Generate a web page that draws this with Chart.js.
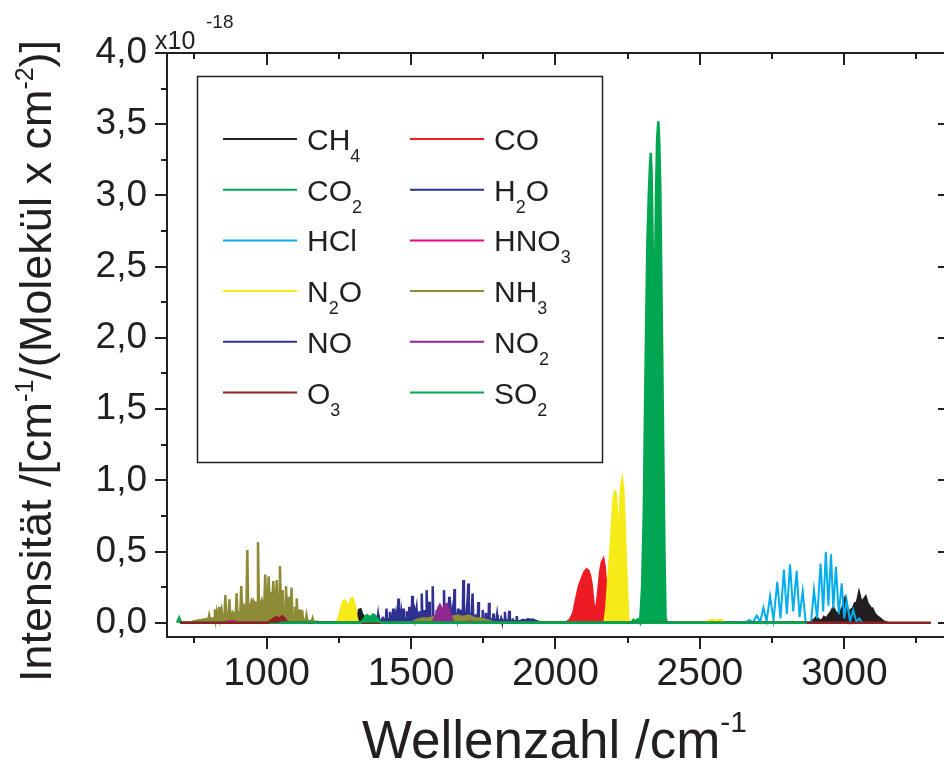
<!DOCTYPE html>
<html>
<head>
<meta charset="utf-8">
<script src="https://cdn.jsdelivr.net/npm/chart.js@4.4.1/dist/chart.umd.min.js"></script>
<style>
  html, body { margin: 0; padding: 0; background: #fff; overflow: hidden; }
  #wrap { position: absolute; left: 0; top: 0; width: 950px; height: 762px; }
</style>
</head>
<body>
<div id="wrap"><canvas id="myChart"></canvas></div>
<script>
// wavenumber (cm^-1), intensity (x10^-18 cm^-1/(molecule cm^-2))
const CH4 = [[1310,0],[1316,0.04],[1320,0.09],[1325,0.094],[1330,0.06],[1335,0.05],[1340,0.02],[1345,0],
  [2880,0],[2887,0.01],[2895,0.02],[2904,0.04],[2912,0.02],[2922,0.015],[2930,0.04],[2938,0.03],[2948,0.06],
  [2955,0.08],[2962,0.107],[2968,0.08],[2975,0.065],[2985,0.077],[2993,0.1],[3002,0.164],[3008,0.09],
  [3015,0.06],[3022,0.09],[3030,0.1],[3037,0.136],[3044,0.14],[3051,0.21],[3057,0.16],[3064,0.15],
  [3070,0.17],[3074,0.182],[3080,0.14],[3086,0.12],[3092,0.1],[3097,0.1],[3104,0.07],[3110,0.05],
  [3117,0.04],[3124,0.03],[3132,0.015],[3141,0.005],[3150,0]];
const CO = [[2035,0],[2050,0.02],[2062,0.07],[2073,0.18],[2082,0.26],[2091,0.31],[2100,0.355],[2108,0.375],
  [2114,0.365],[2120,0.33],[2125,0.27],[2131,0.15],[2137,0.07],[2141,0.09],[2149,0.24],[2155,0.36],
  [2160,0.42],[2166,0.445],[2170,0.4],[2174,0.29],[2179,0.16],[2183,0.08],[2188,0.01],[2192,0]];
const CO2 = [[690,0],[697,0.035],[702,0.01],[708,0],[2262,0],[2270,0.02],[2278,0.01],[2285,0.025],[2293,0],
  [2300,0.25],[2306,0.8],[2310,1.5],[2314,2.1],[2318,2.65],[2323,3.0],[2327,3.2],[2330,3.3],[2333,3.15],
  [2337,2.6],[2341,1.95],[2344,2.3],[2348,3.0],[2352,3.4],[2356,3.52],[2359,3.4],[2363,3.05],[2366,2.5],
  [2369,1.98],[2373,1.25],[2377,0.55],[2381,0.04],[2385,0],[2400,0]];
const H2O = [[1330,0],[1360,0.005],[1375,0.015],[1384,0.02],[1386,0.054],[1388,0.02],[1400,0.02],[1402,0.042],
  [1404,0.02],[1413,0.025],[1415,0.1],[1417,0.025],[1425,0.025],[1427,0.077],[1429,0.025],[1436,0.03],
  [1438,0.1],[1440,0.03],[1446,0.03],[1448,0.06],[1450,0.03],[1454,0.03],[1456,0.17],[1458,0.03],
  [1464,0.03],[1466,0.07],[1468,0.03],[1471,0.03],[1473,0.1],[1475,0.03],[1483,0.03],[1485,0.08],
  [1487,0.03],[1492,0.03],[1494,0.112],[1496,0.03],[1502,0.035],[1504,0.19],[1506,0.035],[1510,0.035],
  [1512,0.07],[1514,0.035],[1517,0.035],[1519,0.1],[1521,0.035],[1527,0.035],[1529,0.08],[1531,0.035],
  [1535,0.035],[1537,0.206],[1539,0.04],[1545,0.04],[1547,0.09],[1549,0.04],[1552,0.04],[1554,0.229],
  [1556,0.04],[1561,0.04],[1563,0.147],[1565,0.04],[1573,0.04],[1575,0.257],[1577,0.04],[1587,0.04],
  [1589,0.089],[1591,0.04],[1600,0.04],[1602,0.09],[1604,0.04],[1612,0.04],[1614,0.229],[1616,0.04],
  [1622,0.04],[1624,0.1],[1626,0.04],[1630,0.04],[1632,0.182],[1634,0.04],[1640,0.04],[1642,0.08],
  [1644,0.04],[1648,0.04],[1650,0.236],[1652,0.04],[1656,0.04],[1658,0.07],[1660,0.04],[1661,0.04],
  [1663,0.1],[1665,0.04],[1672,0.04],[1674,0.09],[1676,0.04],[1679,0.04],[1681,0.3],[1683,0.04],
  [1690,0.04],[1692,0.08],[1694,0.04],[1696,0.04],[1698,0.276],[1700,0.04],[1705,0.035],[1707,0.07],
  [1709,0.035],[1711,0.035],[1713,0.206],[1715,0.035],[1722,0.03],[1724,0.06],[1726,0.03],[1731,0.03],
  [1733,0.145],[1735,0.03],[1746,0.03],[1748,0.089],[1750,0.03],[1757,0.025],[1759,0.07],[1761,0.025],
  [1768,0.025],[1770,0.14],[1772,0.025],[1783,0.02],[1785,0.065],[1787,0.02],[1796,0.02],[1798,0.054],
  [1800,0.02],[1810,0.015],[1812,0.03],[1814,0.015],[1823,0.015],[1825,0.077],[1827,0.015],[1838,0.015],
  [1840,0.084],[1842,0.015],[1850,0.01],[1852,0.03],[1854,0.01],[1864,0.01],[1866,0.047],[1868,0.01],
  [1880,0.005],[1895,0]];
const HCl = [[2650,0],[2660,0.005],[2671,0.02],[2684,0.003],[2697,0.05],[2709,0.005],[2720,0.107],[2731,0.01],
  [2743,0.187],[2755,0.02],[2768,0.288],[2779,0.03],[2791,0.374],[2801,0.06],[2812,0.411],[2823,0.08],
  [2835,0.365],[2845,0.04],[2856,0.222],[2866,0.005],[2876,0],[2885,0.005],[2895,0.229],[2906,0.03],
  [2918,0.416],[2927,0.08],[2936,0.498],[2945,0.12],[2954,0.48],[2962,0.1],[2971,0.393],[2981,0.06],
  [2991,0.276],[3000,0.03],[3008,0.159],[3020,0.01],[3031,0.089],[3042,0.005],[3052,0.03],[3062,0],[3075,0]];
const HNO3 = [[850,0],[870,0.008],[885,0.01],[900,0],[1315,0],[1322,0.02],[1328,0.015],[1335,0],
  [1690,0],[1705,0.01],[1720,0]];
const N2O = [[1240,0],[1250,0.03],[1258,0.1],[1265,0.15],[1271,0.155],[1277,0.13],[1283,0.11],[1289,0.15],
  [1294,0.17],[1299,0.17],[1305,0.12],[1311,0.04],[1317,0],[2170,0],[2176,0.1],[2182,0.28],[2188,0.45],
  [2194,0.62],[2199,0.8],[2203,0.9],[2206,0.93],[2210,0.88],[2214,0.72],[2218,0.58],[2221,0.62],
  [2224,0.82],[2228,0.97],[2231,1.0],[2235,0.92],[2239,0.72],[2244,0.43],[2248,0.2],[2252,0.03],
  [2256,0],[2520,0],[2530,0.015],[2545,0.02],[2555,0.01],[2565,0.02],[2575,0.02],[2585,0]];
const NH3 = [[700,0],[740,0.005],[757,0.015],[775,0.02],[790,0.025],[798,0.025],[801,0.054],[804,0.025],
  [810,0.03],[818,0.03],[821,0.094],[824,0.03],[827,0.073],[830,0.035],[833,0.035],[836,0.112],[839,0.035],
  [841,0.035],[844,0.089],[847,0.04],[854,0.04],[857,0.194],[860,0.05],[868,0.05],[871,0.164],[874,0.05],
  [879,0.06],[882,0.073],[885,0.06],[893,0.07],[896,0.206],[899,0.07],[909,0.07],[912,0.257],[915,0.09],
  [918,0.09],[921,0.12],[924,0.1],[930,0.1],[933,0.51],[936,0.12],[944,0.12],[947,0.147],[950,0.12],
  [951,0.12],[954,0.154],[957,0.14],[967,0.14],[970,0.566],[973,0.14],[980,0.14],[983,0.16],[986,0.14],
  [992,0.14],[995,0.339],[998,0.15],[1004,0.15],[1007,0.327],[1010,0.15],[1012,0.15],[1015,0.218],
  [1018,0.15],[1020,0.15],[1023,0.292],[1026,0.15],[1032,0.15],[1035,0.3],[1038,0.15],[1043,0.15],
  [1046,0.398],[1049,0.14],[1052,0.14],[1055,0.229],[1058,0.12],[1064,0.11],[1067,0.257],[1070,0.1],
  [1073,0.09],[1076,0.182],[1079,0.07],[1083,0.06],[1086,0.248],[1089,0.05],[1095,0.05],[1098,0.112],
  [1101,0.045],[1102,0.045],[1104,0.171],[1107,0.035],[1112,0.03],[1115,0.094],[1118,0.03],[1120,0.03],
  [1123,0.089],[1126,0.02],[1135,0.02],[1138,0.054],[1141,0.015],[1156,0.01],[1159,0.03],[1162,0.005],
  [1173,0.007],[1185,0],[1500,0],[1520,0.02],[1540,0.03],[1560,0.03],[1580,0.04],[1600,0.04],
  [1620,0.05],[1640,0.04],[1660,0.05],[1680,0.04],[1700,0.05],[1720,0.03],[1740,0.03],[1760,0.02],[1790,0]];
const NO = [[1860,0],[1875,0.01],[1888,0.02],[1895,0.015],[1905,0.025],[1912,0.02],[1920,0.022],
  [1930,0.015],[1940,0.008],[1950,0]];
const NO2 = [[1571,0],[1580,0.02],[1588,0.06],[1594,0.1],[1600,0.124],[1606,0.1],[1611,0.09],[1616,0.11],
  [1621,0.128],[1625,0.131],[1631,0.09],[1638,0.04],[1645,0.01],[1652,0]];
const O3 = [[700,0],[1005,0],[1015,0.015],[1025,0.03],[1033,0.04],[1040,0.03],[1047,0.035],[1055,0.045],
  [1062,0.03],[1070,0.005],[1075,0],[3300,0]];
const SO2 = [[1045,0],[1140,0],[1150,0.005],[1160,0],[1325,0],[1335,0.02],[1342,0.045],[1348,0.054],
  [1355,0.04],[1362,0.045],[1369,0.058],[1376,0.05],[1384,0.025],[1393,0.005],[1400,0],[2870,0]];

const species = ['CH4', 'CO', 'CO2', 'H2O', 'HCl', 'HNO3', 'N2O', 'NH3', 'NO', 'NO2', 'O3', 'SO2'];
const spectra = [CH4, CO, CO2, H2O, HCl, HNO3, N2O, NH3, NO, NO2, O3, SO2];
const xTicks = [750, 1000, 1250, 1500, 1750, 2000, 2250, 2500, 2750, 3000, 3250];
const yTicks = [0, 0.25, 0.5, 0.75, 1, 1.25, 1.5, 1.75, 2, 2.25, 2.5, 2.75, 3, 3.25, 3.5, 3.75, 4];

const colors = ['#231f20', '#ed1c24', '#00a651', '#2e3192', '#00aeef', '#ec008c',
                '#f6eb16', '#8d8b36', '#2e3192', '#92278f', '#8c2222', '#00a651'];
// lower = drawn on top
const drawOrder = [6, 5, 3, 10, 5, 6, 4, 8, 9, 7, 2, 1];

const FONT = '"Liberation Sans", Arial, sans-serif';
const INK = '#231f20';

function isMajor(v, step) {
  return Math.abs(v / step - Math.round(v / step)) < 1e-6;
}

// draws text runs along the current baseline (dy shifts super/subscripts)
function drawRuns(ctx, runs, x, y) {
  let cx = x;
  runs.forEach(r => {
    ctx.font = r.size + 'px ' + FONT;
    ctx.fillText(r.t, cx, y + (r.dy || 0));
    cx += ctx.measureText(r.t).width;
  });
  return cx;
}

function formulaRuns(name) {
  return name.match(/\d+|\D+/g).map(p => /\d/.test(p) ? {t: p, size: 18, dy: 12} : {t: p, size: 30});
}

const decorPlugin = {
  id: 'decor',
  afterDraw(chart) {
    const ctx = chart.ctx;
    const a = chart.chartArea;
    const xs = chart.scales.x, ys = chart.scales.y;
    ctx.save();
    ctx.strokeStyle = INK;
    ctx.fillStyle = INK;
    ctx.lineWidth = 2;

    // frame
    ctx.strokeRect(a.left, a.top, a.right - a.left, a.bottom - a.top);

    // ticks: outward on bottom/left, inward on top/right
    ctx.beginPath();
    xTicks.forEach(v => {
      const px = Math.round(xs.getPixelForValue(v));
      const len = isMajor(v, 500) ? 12 : 6;
      ctx.moveTo(px, a.bottom); ctx.lineTo(px, a.bottom + len);
      ctx.moveTo(px, a.top); ctx.lineTo(px, a.top + len);
    });
    yTicks.forEach(v => {
      const py = Math.round(ys.getPixelForValue(v));
      const len = isMajor(v, 0.5) ? 12 : 6;
      ctx.moveTo(a.left - len, py); ctx.lineTo(a.left, py);
      ctx.moveTo(a.right - len, py); ctx.lineTo(a.right, py);
    });
    ctx.stroke();

    // x10^-18 factor
    ctx.textAlign = 'left';
    ctx.textBaseline = 'alphabetic';
    drawRuns(ctx, [{t: 'x10', size: 25}], 155, 49);
    drawRuns(ctx, [{t: '-18', size: 19}], 206, 28);

    // x title
    drawRuns(ctx, [{t: 'Wellenzahl /cm', size: 53}, {t: '-1', size: 30, dy: -26}], 362, 758);

    // y title
    ctx.save();
    ctx.translate(51, 682);
    ctx.rotate(-Math.PI / 2);
    drawRuns(ctx, [
      {t: 'Intensität /[cm', size: 45}, {t: '-1', size: 25, dy: -18},
      {t: '/(Molekül x cm', size: 45}, {t: '-2', size: 25, dy: -18},
      {t: ')]', size: 45}
    ], 0, 0);
    ctx.restore();

    // legend box, two columns
    ctx.lineWidth = 1.5;
    ctx.strokeRect(197.5, 76.5, 405, 386);
    species.forEach((name, i) => {
      const col = i % 2, row = Math.floor(i / 2);
      const ly = 139 + row * 50.7;
      const lx = col === 0 ? 223 : 410;
      ctx.strokeStyle = colors[i];
      ctx.lineWidth = 2;
      ctx.beginPath();
      ctx.moveTo(lx, ly); ctx.lineTo(lx + 74, ly);
      ctx.stroke();
      ctx.fillStyle = INK;
      drawRuns(ctx, formulaRuns(name), lx + 84, ly + 11);
    });
    ctx.restore();
  }
};

const datasets = species.map((name, i) => ({
  label: name,
  data: spectra[i].map(p => ({x: p[0], y: p[1]})),
  borderColor: colors[i],
  backgroundColor: colors[i],
  borderWidth: name === 'HCl' ? 2 : 2.5,
  fill: name === 'HCl' ? false : 'origin',
  pointRadius: 0,
  tension: 0,
  order: drawOrder[i]
}));

const config = {
  type: 'line',
  data: { datasets: datasets },
  options: {
    animation: false,
    responsive: true,
    maintainAspectRatio: false,
    layout: { padding: { top: 53, left: 0, right: 0, bottom: 0 } },
    plugins: {
      legend: { display: false },
      tooltip: { enabled: false }
    },
    scales: {
      x: {
        type: 'linear',
        min: 655,
        max: 3366,
        afterBuildTicks: s => { s.ticks = xTicks.map(v => ({value: v})); },
        afterFit: s => { s.height = 125; },
        border: { display: false },
        grid: { drawOnChartArea: false, drawTicks: true, tickLength: 12, tickColor: 'transparent', color: 'transparent' },
        ticks: {
          color: INK,
          padding: 2,
          maxRotation: 0,
          autoSkip: false,
          font: { family: FONT, size: 39 },
          callback: v => isMajor(v, 500) ? String(v) : ''
        }
      },
      y: {
        min: -0.1,
        max: 4.0,
        afterBuildTicks: s => { s.ticks = yTicks.map(v => ({value: v})); },
        afterFit: s => { s.width = 167; },
        border: { display: false },
        grid: { drawOnChartArea: false, drawTicks: true, tickLength: 12, tickColor: 'transparent', color: 'transparent' },
        ticks: {
          color: INK,
          padding: 8,
          autoSkip: false,
          font: { family: FONT, size: 37 },
          callback: v => isMajor(v, 0.5) ? v.toFixed(1).replace('.', ',') : ''
        }
      }
    }
  },
  plugins: [decorPlugin]
};

const ctx = document.getElementById('myChart').getContext('2d');
const chart = new Chart(ctx, config);
</script>
</body>
</html>
